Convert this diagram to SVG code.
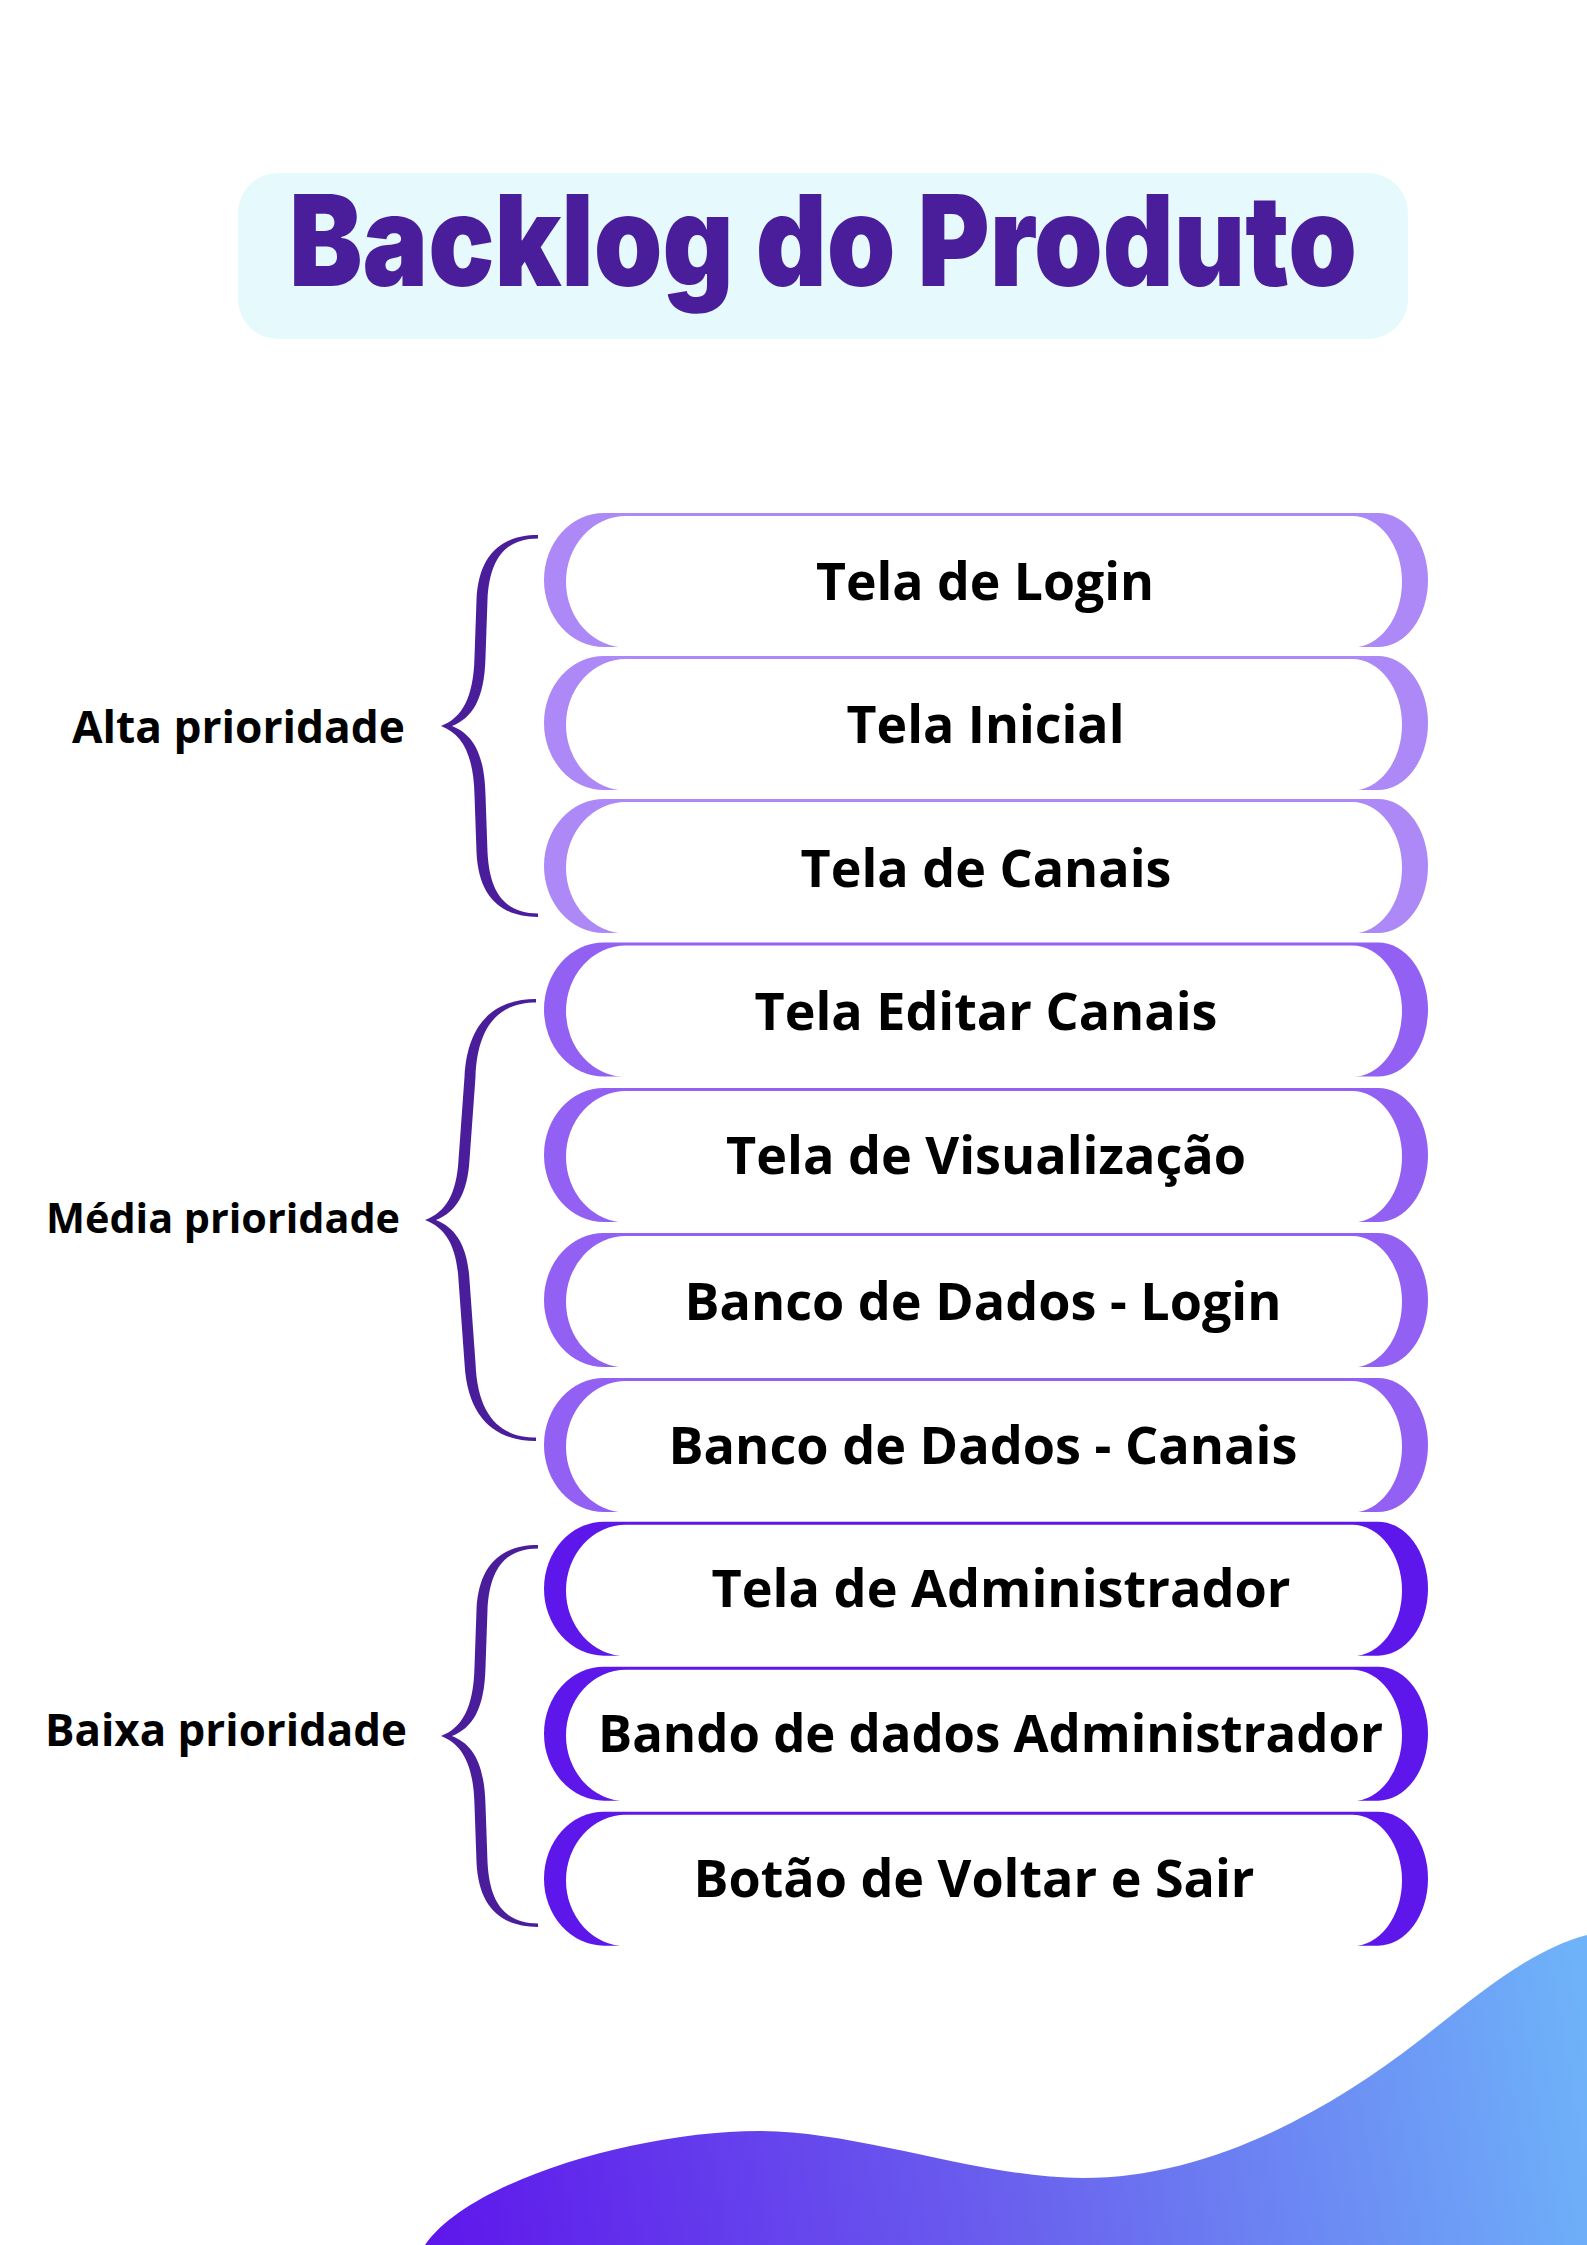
<svg xmlns="http://www.w3.org/2000/svg" xmlns:xlink="http://www.w3.org/1999/xlink" width="1587" height="2245" viewBox="0 0 1587 2245">
<style>
.bg{fill:#ffffff}
.tbox{fill:#E6F9FD}
.title{font-family:Inter,"Liberation Sans",sans-serif;font-weight:900;font-size:127px;fill:#4A1E9B}
.ptxt{font-family:"Open Sans","Liberation Sans",sans-serif;font-weight:700;font-size:52px;fill:#000000;text-anchor:middle}
.lbl{font-family:"Open Sans","Liberation Sans",sans-serif;font-weight:700;font-size:45px;fill:#000000}
.brace{fill:#4A1E9B}
.c1{fill:#AC89F6}
.c2{fill:#9261F4}
.c3{fill:#5E17EB}
.white{fill:#ffffff}
</style>
<defs>
<path id="pillOuter" d="M604,0 H1378 A50,67 0 0 1 1378,134 H604 A60,67 0 0 1 604,0 Z"/>
<path id="pillInner" d="M626,3 H1352 A50,65.75 0 0 1 1352,134.5 H626 A60,65.75 0 0 1 626,3 Z"/>
<path id="braceShort" d="M538,535 C501,535 478.5,555 476.5,600 L474.5,657 C473.5,698 462,718 441,726 C462,734 473.5,754 474.5,795 L476.5,852 C478.5,897 501,917 538,917 L538,913.5 C506,913.5 489.5,894 487.5,852 L485.5,795 C484.5,752 472,734 452,726 C472,718 484.5,700 485.5,657 L487.5,600 C489.5,558 506,538.5 538,538.5 Z"/>
<linearGradient id="waveGrad" gradientUnits="userSpaceOnUse" x1="425" y1="2200" x2="1587" y2="2000">
<stop offset="0" stop-color="#5E17EB"/>
<stop offset="0.5" stop-color="#6A62EE"/>
<stop offset="1" stop-color="#6EB3F9"/>
</linearGradient>
</defs>
<rect class="bg" x="0" y="0" width="1587" height="2245"/>
<g id="wave">
<path fill="url(#waveGrad)" d="M425,2245 C470,2180 640,2131 759,2131 C860,2131 980,2178 1083,2178 C1210,2178 1330,2110 1420,2040 C1480,1993 1530,1950 1587,1935 L1587,2245 Z"/>
</g>
<g id="title">
<rect class="tbox" x="238" y="173" width="1170" height="166" rx="40" ry="40"/>
<text class="title" x="289" y="286" textLength="1068" lengthAdjust="spacingAndGlyphs">Backlog do Produto</text>
</g>
<g id="connectors">
<use xlink:href="#braceShort" href="#braceShort" class="brace"/>
<path class="brace" d="M536,999 C498,999 467.5,1019 464.5,1077 L458.5,1160 C456.5,1194 446,1212 425,1220 C446,1228 456.5,1246 458.5,1280 L464.5,1363 C467.5,1421 498,1441 536,1441 L536,1437.5 C503,1437.5 477.5,1419 475.5,1363 L469.5,1280 C467.5,1246 456,1228 436,1220 C456,1212 467.5,1194 469.5,1160 L475.5,1077 C477.5,1021 503,1002.5 536,1002.5 Z"/>
<use xlink:href="#braceShort" href="#braceShort" class="brace" transform="translate(0,1010)"/>
</g>
<g id="label-alta"><text class="lbl" x="72" y="743" textLength="333" lengthAdjust="spacingAndGlyphs">Alta prioridade</text></g>
<g id="label-media"><text class="lbl" x="46" y="1233" style="font-size:42px" textLength="354" lengthAdjust="spacingAndGlyphs">Média prioridade</text></g>
<g id="label-baixa"><text class="lbl" x="45" y="1746" textLength="362" lengthAdjust="spacingAndGlyphs">Baixa prioridade</text></g>
<g id="pill1" transform="translate(0,513)">
<use xlink:href="#pillOuter" href="#pillOuter" class="c1"/><use xlink:href="#pillInner" href="#pillInner" class="white"/>
<text class="ptxt" x="985" y="87" textLength="338" lengthAdjust="spacingAndGlyphs">Tela de Login</text>
</g>
<g id="pill2" transform="translate(0,656)">
<use xlink:href="#pillOuter" href="#pillOuter" class="c1"/><use xlink:href="#pillInner" href="#pillInner" class="white"/>
<text class="ptxt" x="985.5" y="87" textLength="278" lengthAdjust="spacingAndGlyphs">Tela Inicial</text>
</g>
<g id="pill3" transform="translate(0,799)">
<use xlink:href="#pillOuter" href="#pillOuter" class="c1"/><use xlink:href="#pillInner" href="#pillInner" class="white"/>
<text class="ptxt" x="986" y="88" textLength="371" lengthAdjust="spacingAndGlyphs">Tela de Canais</text>
</g>
<g id="pill4" transform="translate(0,942.5)">
<use xlink:href="#pillOuter" href="#pillOuter" class="c2"/><use xlink:href="#pillInner" href="#pillInner" class="white"/>
<text class="ptxt" x="986" y="87" textLength="463" lengthAdjust="spacingAndGlyphs">Tela Editar Canais</text>
</g>
<g id="pill5" transform="translate(0,1088)">
<use xlink:href="#pillOuter" href="#pillOuter" class="c2"/><use xlink:href="#pillInner" href="#pillInner" class="white"/>
<text class="ptxt" x="986" y="86" textLength="520" lengthAdjust="spacingAndGlyphs">Tela de Visualização</text>
</g>
<g id="pill6" transform="translate(0,1233)">
<use xlink:href="#pillOuter" href="#pillOuter" class="c2"/><use xlink:href="#pillInner" href="#pillInner" class="white"/>
<text class="ptxt" x="983" y="87" textLength="597" lengthAdjust="spacingAndGlyphs">Banco de Dados - Login</text>
</g>
<g id="pill7" transform="translate(0,1378)">
<use xlink:href="#pillOuter" href="#pillOuter" class="c2"/><use xlink:href="#pillInner" href="#pillInner" class="white"/>
<text class="ptxt" x="983" y="86" textLength="629" lengthAdjust="spacingAndGlyphs">Banco de Dados - Canais</text>
</g>
<g id="pill8" transform="translate(0,1521.7)">
<use xlink:href="#pillOuter" href="#pillOuter" class="c3"/><use xlink:href="#pillInner" href="#pillInner" class="white"/>
<text class="ptxt" x="1001" y="85" textLength="579" lengthAdjust="spacingAndGlyphs">Tela de Administrador</text>
</g>
<g id="pill9" transform="translate(0,1666.7)">
<use xlink:href="#pillOuter" href="#pillOuter" class="c3"/><use xlink:href="#pillInner" href="#pillInner" class="white"/>
<text class="ptxt" x="990.5" y="85" textLength="785" lengthAdjust="spacingAndGlyphs">Bando de dados Administrador</text>
</g>
<g id="pill10" transform="translate(0,1811.7)">
<use xlink:href="#pillOuter" href="#pillOuter" class="c3"/><use xlink:href="#pillInner" href="#pillInner" class="white"/>
<text class="ptxt" x="974" y="85" textLength="561" lengthAdjust="spacingAndGlyphs">Botão de Voltar e Sair</text>
</g>
</svg>
